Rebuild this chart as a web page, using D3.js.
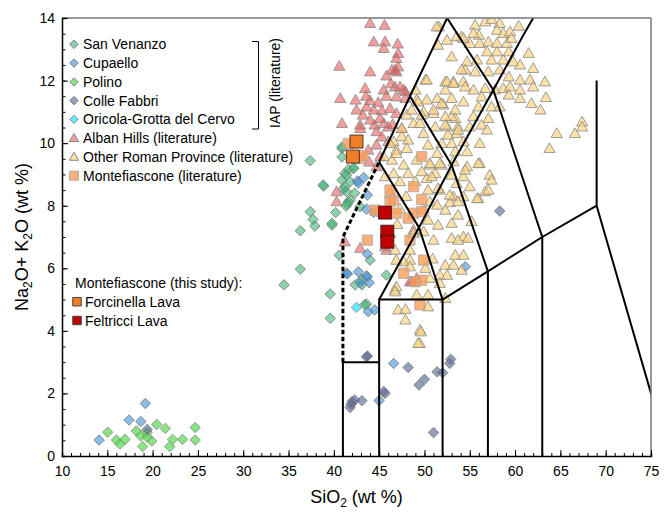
<!DOCTYPE html>
<html><head><meta charset="utf-8">
<script src="https://cdn.jsdelivr.net/npm/d3@7"></script>
<style>body{margin:0;background:#fff}svg{display:block}text{font-family:"Liberation Sans",Arial,sans-serif;fill:#000}</style>
</head><body><div id="chart"></div>
<script>
// ---------- DATA ----------
const xTicks = [10,15,20,25,30,35,40,45,50,55,60,65,70,75];
const yTicks = [0,2,4,6,8,10,12,14];

const sanVenanzo = [[37.4,9.44],[38.9,8.63],[37.4,7.81],[37.7,7.56],[37.9,7.35],[36.3,7.2],[39.8,7.38],[40.2,7.78],[40.6,6.42],[36.3,5.97],[34.5,5.47],[39.6,5.18],[39.6,4.4],[40.9,9.83],[41.2,9.03],[41.6,9.16],[42.15,9.19],[40.9,8.82],[41.8,8.77],[41.05,8.52],[41.6,8.13],[41.35,7.99],[41.8,8.18],[42.9,7.97],[44.0,6.26],[42.35,5.47],[43.6,4.86],[43.1,5.47],[39.8,7.44],[43.1,5.65],[45.8,5.78],[43.4,4.83],[40.9,9.88],[40.9,9.56],[41.4,8.98],[38.8,8.66],[41.2,8.61],[41.4,8.45],[42.3,8.4],[42.2,9.2],[41.5,8.05]];
const cupaello = [[14.1,0.51],[17.4,1.15],[18.7,1.1],[19.2,1.68],[42.6,8.79],[43.3,8.9],[41.5,5.82],[42.7,5.89],[43.6,5.76],[42.9,5.54],[43.9,5.54],[43.6,7.89],[44.4,7.79],[43.7,6.46],[43.7,8.34],[43.7,5.73],[41.4,5.84],[43.8,4.61],[44.5,4.67],[46.6,2.96],[45.0,1.77],[42.7,8.72],[54.5,6.05]];
const polino = [[15.04,0.76],[16.0,0.51],[16.4,0.38],[16.95,0.53],[18.2,0.8],[18.7,0.64],[18.9,0.3],[19.4,0.75],[19.9,0.48],[20.45,1.01],[21.4,0.88],[22.2,0.53],[21.9,0.3],[23.3,0.53],[24.7,0.91],[24.7,0.51],[19.4,0.6]];
const colleFabbri = [[19.4,0.85],[43.6,3.17],[43.7,3.2],[42.0,1.74],[42.3,1.79],[43.1,1.77],[41.8,1.55],[45.65,2.0],[45.5,2.06],[48.2,2.83],[50.0,2.45],[49.4,2.27],[51.4,2.69],[52.0,2.66],[52.9,3.09],[52.8,2.96],[51.0,0.75],[58.3,7.83],[41.9,1.65]];
const oricola = [[42.5,4.75]];
const albanHills = [[44.0,13.83],[45.6,13.77],[44.4,13.24],[45.65,13.24],[45.5,13.03],[47.05,13.17],[47.1,12.87],[46.9,12.71],[40.6,12.46],[44.0,12.28],[46.4,12.34],[47.1,12.44],[45.8,12.15],[46.9,12.28],[43.45,11.75],[45.5,11.7],[46.75,11.8],[47.7,11.7],[40.7,11.43],[42.4,11.38],[43.55,11.5],[44.0,11.36],[45.8,11.5],[46.9,11.48],[47.9,11.43],[42.5,11.06],[43.6,11.16],[44.4,11.06],[45.3,11.04],[46.2,11.11],[46.9,10.95],[40.9,10.63],[42.9,10.58],[44.5,10.58],[45.5,10.63],[42.9,10.47],[44.0,10.74],[44.7,10.37],[45.1,10.79],[46.0,10.52],[42.5,9.99],[43.8,9.78],[44.7,9.94],[45.1,9.57],[46.0,10.05],[47.5,10.47],[47.9,11.65],[47.3,11.8],[46.75,12.34],[44.7,9.25],[40.3,8.13],[41.2,6.85],[42.9,6.64],[45.8,6.58],[45.65,6.69],[48.6,5.57],[48.8,7.22],[40.3,8.45],[48.4,5.57],[49.15,5.68],[45.3,10.2],[46.5,10.6],[43.2,10.9],[44.9,11.3],[46.3,11.9],[43.9,9.4]];
const otherRoman = [[51.6,13.72],[55.6,13.77],[56.7,13.88],[57.4,13.96],[58.3,13.83],[60.4,13.74],[58.0,13.61],[56.0,13.45],[58.7,13.51],[59.45,13.56],[54.1,13.4],[55.0,13.19],[56.1,13.19],[57.05,13.24],[58.0,13.19],[59.1,13.19],[59.6,13.35],[56.9,12.92],[58.0,12.92],[59.3,12.92],[61.5,12.87],[54.7,12.6],[55.8,12.66],[57.4,12.66],[58.7,12.66],[59.8,12.6],[60.55,12.5],[62.0,12.39],[54.5,12.34],[55.6,12.28],[57.05,12.28],[58.3,12.34],[59.3,12.12],[60.55,12.02],[61.65,12.02],[63.3,11.96],[50.1,12.02],[52.3,11.96],[53.2,11.96],[54.3,11.96],[55.4,11.7],[56.7,11.75],[57.8,11.7],[58.7,11.75],[59.45,11.8],[60.55,11.7],[62.0,11.8],[59.3,11.54],[60.55,11.43],[61.8,11.27],[63.4,11.46],[62.8,11.06],[52.3,11.7],[53.0,11.43],[54.3,11.32],[56.3,11.48],[57.4,11.16],[58.3,11.16],[55.95,11.16],[55.4,10.85],[57.05,10.79],[53.4,10.79],[52.5,10.52],[53.7,10.52],[55.0,10.52],[56.3,10.58],[56.9,10.42],[53.55,10.31],[67.4,10.68],[67.4,10.52],[66.6,10.31],[64.6,10.31],[63.8,9.83],[51.9,9.99],[53.0,9.99],[54.3,10.05],[56.1,9.99],[53.4,9.73],[54.7,9.73],[56.1,9.35],[54.7,9.25],[53.2,9.41],[51.9,9.3],[50.6,9.3],[50.25,8.87],[51.2,9.03],[53.0,8.98],[54.3,8.93],[57.2,8.98],[57.4,8.82],[55.0,8.61],[53.55,8.71],[51.7,8.5],[56.7,8.45],[57.05,8.5],[55.95,8.23],[53.2,8.29],[54.3,8.29],[52.8,8.1],[50.6,8.13],
[48.05,10.9],[48.8,10.63],[47.5,10.47],[49.5,10.63],[51.0,10.95],[52.3,10.58],[53.0,10.85],[53.7,10.42],[52.6,10.26],[47.5,10.21],[46.6,10.05],[48.2,10.1],[46.9,9.78],[48.05,9.83],[50.4,9.94],[51.4,9.67],[50.6,9.35],[45.5,9.57],[46.4,9.46],[47.7,9.3],[49.15,9.46],[48.2,9.03],[49.7,9.09],[50.8,8.93],[46.6,9.03],[45.65,8.93],[47.3,8.77],[49.0,8.77],[50.4,8.5],[51.5,8.55],[54.5,9.14],[55.95,9.35],[52.8,8.34],[53.7,8.13],[55.8,8.23],[51.4,8.02],[52.3,7.86],[53.7,7.7],[51.5,7.38],[53.0,7.44],[50.4,7.54],[54.3,7.01],[49.9,7.17],
[53.0,6.96],[53.7,6.9],[54.8,6.96],[53.4,6.42],[54.3,6.42],[52.3,6.1],[53.2,6.1],[54.1,5.94],[51.7,5.78],[52.5,5.78],[51.0,6.9],[48.4,6.58],[48.4,6.26],[47.7,6.21],[46.75,5.31],[49.15,5.15],[50.4,5.15],[50.6,5.68],[51.7,5.52],[52.3,5.04],[47.1,4.67],[47.9,4.69],[50.4,4.77],[47.9,4.35],[49.5,4.03],[48.8,7.12],[49.5,3.6],[46.75,6.58],[46.9,6.26],[46.2,7.12],[46.9,5.41],[46.75,5.25],[48.4,6.05],
[52.5,13.29],[53.55,13.4],[54.3,13.35],[53.0,12.76],[54.1,12.34],[50.25,12.02],[52.5,11.96],[49.15,11.38],[50.25,11.38],[51.4,11.43],[48.6,11.06],[49.9,11.0],[51.0,11.06],[52.1,11.22],[53.4,11.06],[49.9,10.31],[51.2,10.52],[55.4,13.51],[51.5,13.13],[49.0,11.7],[53.2,11.91],[54.5,11.8],[46.2,9.99],[46.9,9.67],[51.7,9.35],[46.2,8.4],[51.35,13.72],[49.3,11.32],[51.9,11.27],[49.7,10.9],[52.3,10.85],[49.6,3.97],[49.3,3.6],[47.3,7.9],[48.0,8.3],[49.9,7.9],[50.9,6.3],[47.0,7.4],[55.2,7.5],[50.1,6.0]];
const montefiasconeLit = [[41.6,9.99],[42.9,9.51],[49.7,9.57],[48.8,8.61],[46.6,8.18],[46.9,7.76],[45.3,7.81],[49.7,8.2],[46.2,8.13],[44.5,7.86],[48.8,7.76],[49.7,7.81],[48.2,7.6],[46.2,8.5],[43.7,6.9],[48.4,6.9],[49.9,6.26],[47.7,5.84],[49.0,5.57],[49.7,5.62],[49.5,4.83],[43.2,9.6]];
const forcinella = [[42.5,10.05],[42.1,9.57]];
const feltricci = [[45.65,7.78],[45.9,7.17],[45.9,6.85]];

// TAS classification boundaries (Le Bas et al., 1986)
const tasSolid = [
  [[41,0],[41,3]],
  [[41,3],[45,3]],
  [[45,0],[45,5],[52,5],[52,0]],
  [[52,5],[57,5.9],[57,0]],
  [[57,5.9],[63,7],[63,0]],
  [[63,7],[69,8],[69,12]],
  [[69,8],[77,0]],
  [[45,5],[49.4,7.3],[52,5]],
  [[49.4,7.3],[53,9.3],[57,5.9]],
  [[53,9.3],[57.6,11.7],[63,7]],
  [[45,9.4],[49.4,7.3]],
  [[45,9.4],[48.4,11.5],[53,9.3]],
  [[48.4,11.5],[52.5,14],[57.6,11.7]],
  [[57.6,11.7],[61,13.5],[63,14.5]]
];
const tasDashed = [[41,3],[41,7],[45,9.4]];

// ---------- LAYOUT ----------
const W = 671, H = 513;
const m = {l:62, t:18, r:20, b:57};
const iw = W - m.l - m.r, ih = H - m.t - m.b;

const svg = d3.select("#chart").append("svg").attr("width",W).attr("height",H);
const x = d3.scaleLinear().domain([10,75]).range([m.l, m.l+iw]);
const y = d3.scaleLinear().domain([0,14]).range([m.t+ih, m.t]);

svg.append("defs").append("clipPath").attr("id","clip")
  .append("rect").attr("x",m.l).attr("y",m.t).attr("width",iw).attr("height",ih);

// symbol types
const diamond = {draw(c,s){const r=Math.sqrt(s)/2; c.moveTo(0,-r);c.lineTo(r,0);c.lineTo(0,r);c.lineTo(-r,0);c.closePath();}};
const tri = {draw(c,s){const w=Math.sqrt(s)/2; const h=w*1.75; c.moveTo(0,-h*0.58);c.lineTo(w,h*0.42);c.lineTo(-w,h*0.42);c.closePath();}};
const sq = {draw(c,s){const r=Math.sqrt(s)/2; c.rect(-r,-r,2*r,2*r);}};

const styles = {
  sv:  {type:diamond, size:110, fill:"#3fb677", op:0.6, stroke:"#777"},
  cu:  {type:diamond, size:110, fill:"#3d8fd6", op:0.6, stroke:"#777"},
  po:  {type:diamond, size:110, fill:"#55da4d", op:0.7, stroke:"#888"},
  cf:  {type:diamond, size:110, fill:"#5a6c98", op:0.65, stroke:"#777"},
  or:  {type:diamond, size:110, fill:"#3ee4ff", op:0.8, stroke:"#888"},
  ah:  {type:tri, size:125, fill:"#ec5656", op:0.58, stroke:"#888"},
  ro:  {type:tri, size:125, fill:"#fcd37d", op:0.68, stroke:"#888"},
  ml:  {type:sq, size:105, fill:"#fa9a55", op:0.78, stroke:"#aaa"},
  fo:  {type:sq, size:170, fill:"#f07d28", op:1, stroke:"#222"},
  fe:  {type:sq, size:170, fill:"#c00000", op:1, stroke:"#222"}
};

function drawSeries(g, data, st){
  g.selectAll(null).data(data).enter().append("path")
    .attr("transform", d=>`translate(${x(d[0])},${y(d[1])})`)
    .attr("d", d3.symbol().type(st.type).size(st.size)())
    .attr("fill", st.fill).attr("fill-opacity", st.op)
    .attr("stroke", st.stroke).attr("stroke-opacity", 0.8).attr("stroke-width", 1);
}

const plot = svg.append("g").attr("clip-path","url(#clip)");
drawSeries(plot, sanVenanzo, styles.sv);
drawSeries(plot, cupaello, styles.cu);
drawSeries(plot, polino, styles.po);
drawSeries(plot, colleFabbri, styles.cf);
drawSeries(plot, oricola, styles.or);
drawSeries(plot, albanHills, styles.ah);
drawSeries(plot, otherRoman, styles.ro);
drawSeries(plot, montefiasconeLit, styles.ml);

const line = d3.line().x(d=>x(d[0])).y(d=>y(d[1]));
plot.selectAll(".tas").data(tasSolid).enter().append("path")
  .attr("d", line).attr("fill","none").attr("stroke","#000").attr("stroke-width",2).attr("stroke-linejoin","miter");
plot.append("path").attr("d", line(tasDashed)).attr("fill","none")
  .attr("stroke","#000").attr("stroke-width",3).attr("stroke-dasharray","4.5,2.5");

drawSeries(plot, forcinella, styles.fo);
drawSeries(plot, feltricci, styles.fe);

// ---------- AXES ----------
svg.append("line").attr("x1",m.l).attr("x2",m.l+iw).attr("y1",m.t).attr("y2",m.t).attr("stroke","#777").attr("stroke-width",1.5);
svg.append("line").attr("x1",m.l+iw).attr("x2",m.l+iw).attr("y1",m.t).attr("y2",m.t+ih).attr("stroke","#777").attr("stroke-width",1.5);

const xAxis = svg.append("g").attr("transform",`translate(0,${m.t+ih})`)
  .call(d3.axisBottom(x).tickValues(d3.range(10,76,1)).tickSize(-3).tickFormat(""));
xAxis.select(".domain").attr("stroke","#000").attr("stroke-width",1.5);
xAxis.selectAll(".tick line").attr("stroke","#000");
const xAxis2 = svg.append("g").attr("transform",`translate(0,${m.t+ih})`)
  .call(d3.axisBottom(x).tickValues(xTicks).tickSize(-6).tickPadding(10).tickFormat(d3.format("d")));
xAxis2.select(".domain").remove();
xAxis2.selectAll(".tick line").attr("stroke","#000");
xAxis2.selectAll("text").attr("font-size",14).attr("font-family","Liberation Sans, Arial, sans-serif").attr("dy","0.71em");

const yAxis = svg.append("g").attr("transform",`translate(${m.l},0)`)
  .call(d3.axisLeft(y).tickValues(d3.range(0,14.01,0.5)).tickSize(-3.5).tickFormat(""));
yAxis.select(".domain").attr("stroke","#000").attr("stroke-width",1.5);
yAxis.selectAll(".tick line").attr("stroke","#000");
const yAxis2 = svg.append("g").attr("transform",`translate(${m.l},0)`)
  .call(d3.axisLeft(y).tickValues(yTicks).tickSize(-6).tickPadding(7).tickFormat(d3.format("d")));
yAxis2.select(".domain").remove();
yAxis2.selectAll(".tick line").attr("stroke","#000");
yAxis2.selectAll("text").attr("font-size",14).attr("font-family","Liberation Sans, Arial, sans-serif");

// axis titles
const xt = svg.append("text").attr("x", (m.l+m.l+iw)/2).attr("y", 503).attr("text-anchor","middle").attr("font-size",18);
xt.append("tspan").text("SiO");
xt.append("tspan").text("2").attr("font-size",12).attr("dy",4);
xt.append("tspan").text(" (wt %)").attr("dy",-4);

const yt = svg.append("text").attr("transform",`translate(28,${m.t+ih/2}) rotate(-90)`).attr("text-anchor","middle").attr("font-size",18);
yt.append("tspan").text("Na");
yt.append("tspan").text("2").attr("font-size",12).attr("dy",4);
yt.append("tspan").text("O+ K").attr("dy",-4);
yt.append("tspan").text("2").attr("font-size",12).attr("dy",4);
yt.append("tspan").text("O (wt %)").attr("dy",-4);

// ---------- LEGEND ----------
const legendItems = [
  {label:"San Venanzo", st:styles.sv},
  {label:"Cupaello", st:styles.cu},
  {label:"Polino", st:styles.po},
  {label:"Colle Fabbri", st:styles.cf},
  {label:"Oricola-Grotta del Cervo", st:styles.or},
  {label:"Alban Hills (literature)", st:styles.ah},
  {label:"Other Roman Province (literature)", st:styles.ro},
  {label:"Montefiascone (literature)", st:styles.ml}
];
const lg = svg.append("g");
legendItems.forEach((it,i)=>{
  const cy = 44.3 + i*18.77;
  const sz = it.st.type===sq ? 80 : (it.st.type===tri ? 85 : 70);
  lg.append("path").attr("transform",`translate(74,${cy})`)
    .attr("d", d3.symbol().type(it.st.type).size(sz)())
    .attr("fill", it.st.fill).attr("fill-opacity", it.st.op).attr("stroke", it.st.stroke).attr("stroke-width",1);
  lg.append("text").attr("x",83).attr("y",cy).attr("dy","0.36em").attr("font-size",14).text(it.label);
});
lg.append("path").attr("d","M252,41.5 H258.5 V129 H252").attr("fill","none").attr("stroke","#000").attr("stroke-width",1);
lg.append("text").attr("transform","translate(275,83) rotate(-90)").attr("text-anchor","middle").attr("dy","0.36em")
  .attr("font-size",14).text("IAP (literature)");

lg.append("text").attr("x",75).attr("y",283.3).attr("dy","0.36em").attr("font-size",14).text("Montefiascone (this study):");
[{label:"Forcinella Lava", st:styles.fo, cy:301.7},{label:"Feltricci Lava", st:styles.fe, cy:320.5}].forEach(it=>{
  lg.append("path").attr("transform",`translate(77,${it.cy})`)
    .attr("d", d3.symbol().type(sq).size(72)())
    .attr("fill", it.st.fill).attr("stroke","#444").attr("stroke-width",1);
  lg.append("text").attr("x",85).attr("y",it.cy).attr("dy","0.36em").attr("font-size",14).text(it.label);
});
</script>
</body></html>
